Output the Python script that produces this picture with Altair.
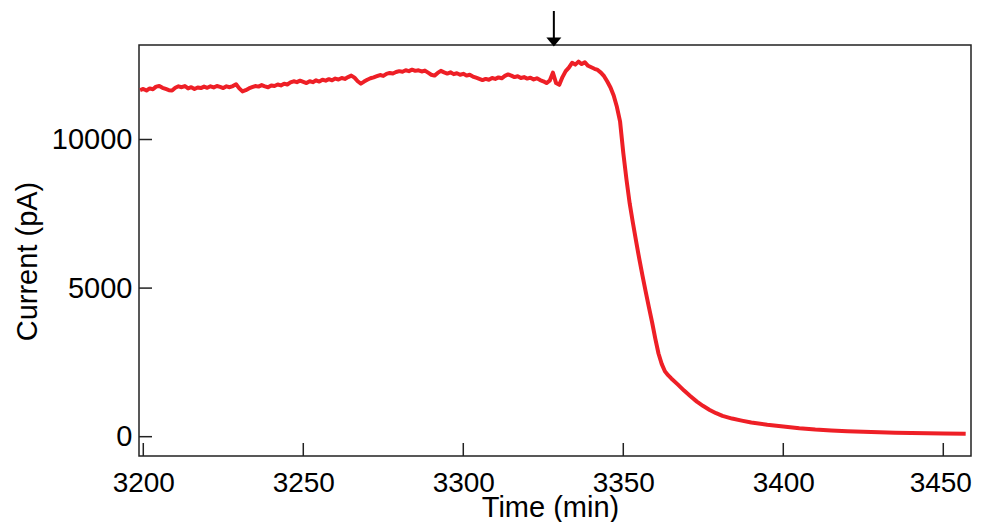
import altair as alt
import pandas as pd

# ---- data ----
time_min = [
    3199, 3200, 3201, 3202, 3203, 3204, 3205, 3206, 3207, 3208, 3209,
    3210, 3211, 3212, 3213, 3214, 3215, 3216, 3217, 3218, 3219,
    3220, 3221, 3222, 3223, 3224, 3225, 3226, 3227, 3228, 3229,
    3230, 3231, 3232, 3233, 3234, 3235, 3236, 3237, 3238, 3239,
    3240, 3241, 3242, 3243, 3244, 3245, 3246, 3247, 3248, 3249,
    3250, 3251, 3252, 3253, 3254, 3255, 3256, 3257, 3258, 3259,
    3260, 3261, 3262, 3263, 3264, 3265, 3266, 3267, 3268, 3269,
    3270, 3271, 3272, 3273, 3274, 3275, 3276, 3277, 3278, 3279,
    3280, 3281, 3282, 3283, 3284, 3285, 3286, 3287, 3288, 3289,
    3290, 3291, 3292, 3293, 3294, 3295, 3296, 3297, 3298, 3299,
    3300, 3301, 3302, 3303, 3304, 3305, 3306, 3307, 3308, 3309,
    3310, 3311, 3312, 3313, 3314, 3315, 3316, 3317, 3318, 3319,
    3320, 3321, 3322, 3323, 3324, 3325, 3326, 3327, 3328, 3329,
    3330, 3331, 3332, 3333, 3334, 3335, 3336, 3337, 3338, 3339,
    3340, 3341, 3342, 3343, 3344, 3345, 3346, 3347, 3348, 3349,
    3350, 3351, 3352, 3353, 3354, 3355, 3356, 3357, 3358, 3359,
    3360, 3361, 3362, 3363, 3364, 3365, 3367, 3369, 3371, 3373,
    3375, 3377, 3379, 3381, 3384, 3387, 3390, 3395, 3400, 3405,
    3410, 3415, 3420, 3425, 3430, 3435, 3440, 3445, 3450, 3457,
]
current_pA = [
    11660, 11700, 11650, 11720, 11690, 11780, 11800, 11740, 11700, 11660, 11650,
    11740, 11790, 11760, 11800, 11720, 11760, 11700, 11750, 11730, 11780,
    11740, 11790, 11750, 11800, 11770, 11730, 11790, 11760, 11800, 11860,
    11720, 11620, 11660, 11720, 11760, 11800, 11780, 11830, 11790, 11760,
    11820, 11800, 11850, 11820, 11880, 11850, 11920, 11960, 11930, 11980,
    11940, 11900, 11960, 11930, 11990, 11950, 12010, 11980, 12030, 11990,
    12050, 12020, 12070, 12040, 12100, 12150, 12080, 11960, 11880, 11950,
    12010, 12060, 12090, 12130, 12170, 12140, 12210, 12240, 12220, 12270,
    12300, 12280, 12330, 12300, 12350, 12310, 12330, 12290, 12320, 12250,
    12180, 12150, 12240, 12310, 12260, 12220, 12260, 12200, 12230, 12180,
    12210, 12150, 12180, 12120, 12080, 12040, 12000, 12040, 12010, 12070,
    12040, 12090, 12060, 12140, 12190, 12150, 12100, 12130, 12070, 12100,
    12050, 12080, 12020, 12060, 12000, 11960, 11900, 11980, 12250, 11900,
    11840, 12100, 12300, 12420, 12580, 12520, 12620, 12540, 12600, 12480,
    12430, 12380, 12340, 12250, 12130, 11950, 11750, 11480, 11100, 10600,
    9550, 8650, 7850, 7200, 6580, 5980, 5420, 4880, 4360, 3850,
    3300, 2800, 2450, 2200, 2070, 1960, 1760, 1550, 1360, 1180,
    1030, 900, 790, 700, 610, 540, 475, 400, 345, 285,
    238, 205, 182, 163, 148, 136, 127, 118, 110, 100,
]
x_ticks = [3200, 3250, 3300, 3350, 3400, 3450]
y_ticks = [0, 5000, 10000]
arrow_time = [3328.3]

W, H = 832, 411
FONT = "Liberation Sans"
INK = "#222222"
RED = "#ee1f26"

df = pd.DataFrame({"t": time_min, "I": current_pA})
df_xt = pd.DataFrame({"t": x_ticks})
df_yt = pd.DataFrame({"I": y_ticks})
df_arrow = pd.DataFrame({"t": arrow_time})

x_scale = alt.Scale(domain=[3198.66, 3458.66], nice=False, zero=False)
y_scale = alt.Scale(domain=[-650, 13180], nice=False, zero=False)

x_axis = alt.Axis(
    values=x_ticks, format="d", ticks=False, tickSize=0, domain=False, grid=False,
    labelFont=FONT, labelFontSize=28, labelColor="black", labelPadding=35,
    labelBaseline="alphabetic", labelFlush=False, labelOverlap=False,
    labelOffset={"condition": {"test": "datum.value >= 3450", "value": -3}, "value": 0},
    title="Time (min)", titleFont=FONT, titleFontSize=29, titleFontWeight="normal",
    titleColor="black", titleX=411, titleY=60, titleAlign="center",
    titleBaseline="alphabetic",
)
y_axis = alt.Axis(
    values=y_ticks, format="d", ticks=False, tickSize=0, domain=False, grid=False,
    labelFont=FONT, labelFontSize=29, labelColor="black", labelPadding=7,
    labelBaseline="middle", labelFlush=False, labelOverlap=False,
    title="Current (pA)", titleFont=FONT, titleFontSize=29, titleFontWeight="normal",
    titleColor="black", titleX=-103, titleY=216, titleAngle=270, titleAlign="center",
    titleBaseline="alphabetic",
)

X = alt.X("t:Q", scale=x_scale, axis=x_axis)
Y = alt.Y("I:Q", scale=y_scale, axis=y_axis)

line = alt.Chart(df).mark_line(color=RED, strokeWidth=4, strokeJoin="round").encode(x=X, y=Y)

xt = alt.Chart(df_xt).mark_rule(color=INK, strokeWidth=1.5).encode(
    x=X, y=alt.value(H - 13), y2=alt.value(H)
)
yt = alt.Chart(df_yt).mark_rule(color=INK, strokeWidth=1.5).encode(
    y=Y, x=alt.value(0), x2=alt.value(13)
)
shaft = alt.Chart(df_arrow).mark_rule(color="black", strokeWidth=2).encode(
    x=X, y=alt.value(-34), y2=alt.value(-6)
)
head = alt.Chart(df_arrow).mark_point(
    shape="M-1,-0.6L1,-0.6L0,0.6Z", filled=True, color="black", size=225,
    opacity=1, strokeWidth=0,
).encode(x=X, y=alt.value(-3))

chart = (
    alt.layer(line, xt, yt, shaft, head)
    .properties(
        width=W, height=H, autosize="none",
        padding={"left": 131, "top": 37, "right": 2, "bottom": 66},
        background="white",
    )
    .configure_view(stroke=INK, strokeWidth=1.5)
)

chart.save("out.html", embed_options={"renderer": "svg", "actions": False})
